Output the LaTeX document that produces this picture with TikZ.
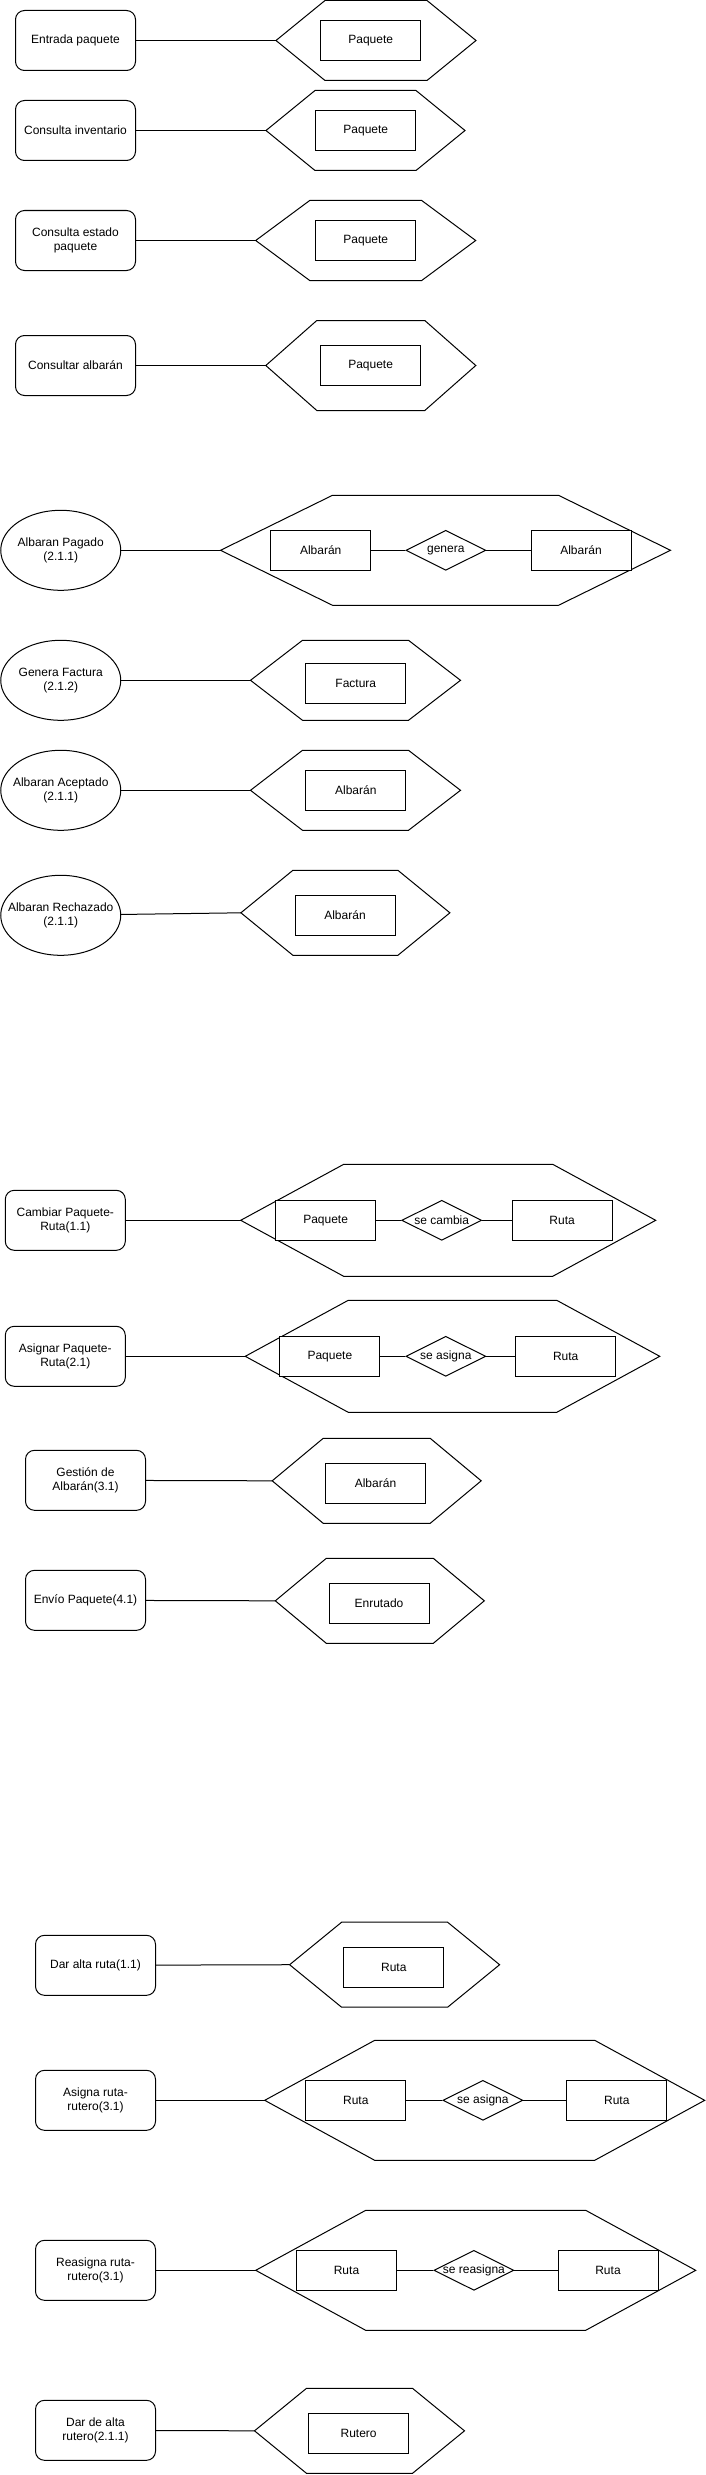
\documentclass[tikz,border=0pt]{standalone}
\usepackage{fontspec}
\setmainfont{Liberation Sans}
\usetikzlibrary{shapes.geometric}
% hexagon around a (blank) node: #1 node name, #2 size of the slanted part
\newcommand{\hexa}[2]{\draw (#1.west) -- ([xshift=#2]#1.north west) -- ([xshift=-#2]#1.north east) -- (#1.east) -- ([xshift=-#2]#1.south east) -- ([xshift=#2]#1.south west) -- cycle;}
\begin{document}
\begin{tikzpicture}[x=1pt, y=-1pt, line width=1pt, every node/.style={font=\fontsize{12}{14.4}\selectfont}]
\tikzstyle{roundbox} = [rectangle, rounded corners=9pt, minimum width=120pt, minimum height=60pt, align=center, draw=black]
\tikzstyle{oval} = [ellipse, minimum width=120pt, minimum height=80pt, inner sep=0pt, draw=black]
\tikzstyle{entity} = [rectangle, minimum width=100pt, minimum height=40pt, draw=black, fill=white]
\tikzstyle{rel} = [diamond, minimum width=80pt, minimum height=40pt, inner sep=0pt, draw=black, fill=white]
\tikzstyle{hexbox} = [rectangle, inner sep=0pt, outer sep=0pt]
\useasboundingbox (0,0) rectangle (705,2475);

% paquetes
\node (entrada)[roundbox] at (75.5,40.5) {Entrada paquete};
\node (hx1)[hexbox, minimum width=200pt, minimum height=80pt] at (376,40.5) {};
\hexa{hx1}{49}
\node (paq1)[entity] at (370.7,40.5) {Paquete};
\draw (entrada) -- (hx1.west);

\node (inventario)[roundbox] at (75.5,130.5) {Consulta inventario};
\node (hx2)[hexbox, minimum width=199pt, minimum height=80pt] at (365.5,130.5) {};
\hexa{hx2}{49}
\node (paq2)[entity] at (365.8,130.5) {Paquete};
\draw (inventario) -- (hx2.west);

\node (estado)[roundbox] at (75.5,240.5) {Consulta estado\\paquete};
\node (hx3)[hexbox, minimum width=220pt, minimum height=80pt] at (365.7,240.5) {};
\hexa{hx3}{54}
\node (paq3)[entity] at (365.8,240.5) {Paquete};
\draw (estado) -- (hx3.west);

\node (albaran)[roundbox] at (75.5,365.5) {Consultar albarán};
\node (hx4)[hexbox, minimum width=210pt, minimum height=90pt] at (370.8,365.5) {};
\hexa{hx4}{51}
\node (paq4)[entity] at (370.6,365.5) {Paquete};
\draw (albaran) -- (hx4.west);

% albaranes
\node (pagado)[oval, label={[align=center]center:Albaran Pagado\\(2.1.1)}] at (60.75,550.3) {};
\node (hx5)[hexbox, minimum width=450pt, minimum height=110pt] at (445.5,550.3) {};
\hexa{hx5}{112}
\node (alb5a)[entity] at (320.7,550.3) {Albarán};
\node (gen5)[rel, label=center:genera] at (445.8,550.3) {};
\node (alb5b)[entity] at (581,550.3) {Albarán};
\draw (pagado) -- (hx5.west);
\draw (alb5a) -- (gen5) (gen5) -- (alb5b);

\node (factura)[oval, label={[align=center]center:Genera Factura\\(2.1.2)}] at (60.75,680.3) {};
\node (hx6)[hexbox, minimum width=210pt, minimum height=80pt] at (355.5,680.3) {};
\hexa{hx6}{52}
\node (fac6)[entity] at (355.8,683.3) {Factura};
\draw (factura) -- (hx6.west);

\node (aceptado)[oval, label={[align=center]center:Albaran Aceptado\\(2.1.1)}] at (60.75,790.3) {};
\node (hx7)[hexbox, minimum width=210pt, minimum height=80pt] at (355.5,790.3) {};
\hexa{hx7}{52}
\node (alb7)[entity] at (355.8,790.3) {Albarán};
\draw (aceptado) -- (hx7.west);

\node (rechazado)[oval, label={[align=center]center:Albaran Rechazado\\(2.1.1)}] at (60.75,915.3) {};
\node (hx8)[hexbox, minimum width=209pt, minimum height=85pt] at (345.4,912.8) {};
\hexa{hx8}{52}
\node (alb8)[entity] at (345,915.3) {Albarán};
\draw (rechazado) -- (hx8.west);

% rutas de paquetes
\node (cambiar)[roundbox] at (65.3,1220.3) {Cambiar Paquete-\\Ruta(1.1)};
\node (hx9)[hexbox, minimum width=415pt, minimum height=112pt] at (448.2,1220.3) {};
\hexa{hx9}{103}
\node (paq9)[entity] at (325.6,1220.3) {Paquete};
\node (cam9)[rel, label=center:se cambia] at (441.7,1220.3) {};
\node (ruta9)[entity] at (562.1,1220.3) {Ruta};
\draw (cambiar) -- (hx9.west);
\draw (paq9) -- (cam9) (cam9) -- (ruta9);

\node (asignar)[roundbox] at (65.3,1356.3) {Asignar Paquete-\\Ruta(2.1)};
\node (hx10)[hexbox, minimum width=414.5pt, minimum height=112pt] at (452.5,1356.3) {};
\hexa{hx10}{103}
\node (paq10)[entity] at (329.9,1356.3) {Paquete};
\node (asg10)[rel, label=center:se asigna] at (445.8,1356.3) {};
\node (ruta10)[entity] at (565.7,1356.3) {Ruta};
\draw (asignar) -- (hx10.west);
\draw (paq10) -- (asg10) (asg10) -- (ruta10);

\node (gestion)[roundbox] at (85.5,1480.3) {Gestión de\\Albarán(3.1)};
\node (hx11)[hexbox, minimum width=209pt, minimum height=85pt] at (376.7,1480.8) {};
\hexa{hx11}{51}
\node (alb11)[entity] at (375.5,1483.3) {Albarán};
\draw (gestion) -- (hx11.west);

\node (envio)[roundbox] at (85.5,1600.3) {Envío Paquete(4.1)};
\node (hx12)[hexbox, minimum width=209pt, minimum height=85pt] at (379.8,1600.8) {};
\hexa{hx12}{51}
\node (enr12)[entity] at (379,1603.3) {Enrutado};
\draw (envio) -- (hx12.west);

% rutas y ruteros
\node (altaruta)[roundbox] at (95.5,1965.3) {Dar alta ruta(1.1)};
\node (hx13)[hexbox, minimum width=210pt, minimum height=85pt] at (394.6,1964.7) {};
\hexa{hx13}{52}
\node (ruta13)[entity] at (393.8,1967.3) {Ruta};
\draw (altaruta) -- (hx13.west);

\node (asignaruta)[roundbox] at (95.5,2100.3) {Asigna ruta-\\rutero(3.1)};
\node (hx14)[hexbox, minimum width=440pt, minimum height=120pt] at (484.7,2100.3) {};
\hexa{hx14}{110}
\node (ruta14a)[entity] at (355.8,2100.3) {Ruta};
\node (asg14)[rel, label=center:se asigna] at (482.9,2100.3) {};
\node (ruta14b)[entity] at (616.8,2100.3) {Ruta};
\draw (asignaruta) -- (hx14.west);
\draw (ruta14a) -- (asg14) (asg14) -- (ruta14b);

\node (reasigna)[roundbox] at (95.5,2270.3) {Reasigna ruta-\\rutero(3.1)};
\node (hx15)[hexbox, minimum width=440pt, minimum height=120pt] at (475.7,2270.3) {};
\hexa{hx15}{110}
\node (ruta15a)[entity] at (346.5,2270.3) {Ruta};
\node (rea15)[rel, label=center:se reasigna] at (473.9,2270.3) {};
\node (ruta15b)[entity] at (608,2270.3) {Ruta};
\draw (reasigna) -- (hx15.west);
\draw (ruta15a) -- (rea15) (rea15) -- (ruta15b);

\node (altarutero)[roundbox] at (95.5,2430.3) {Dar de alta\\rutero(2.1.1)};
\node (hx16)[hexbox, minimum width=210pt, minimum height=85pt] at (359.5,2430.8) {};
\hexa{hx16}{52}
\node (rutero16)[entity] at (358.6,2433.5) {Rutero};
\draw (altarutero) -- (hx16.west);
\end{tikzpicture}
\end{document}
